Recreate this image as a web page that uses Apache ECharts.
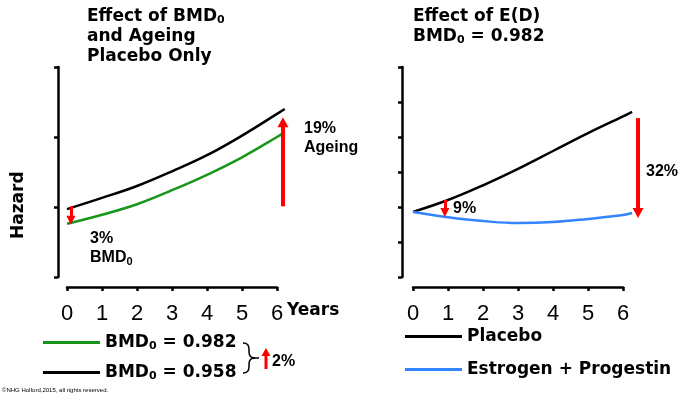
<!DOCTYPE html>
<html>
<head>
<meta charset="utf-8">
<script src="https://cdn.jsdelivr.net/npm/echarts@6/dist/echarts.min.js"></script>
<style>
html,body{margin:0;padding:0;background:#fff;}
#chart{width:680px;height:394px;}
</style>
</head>
<body>
<div id="chart"></div>
<script>
// ---- data ----
var years = [0, 1, 2, 3, 4, 5, 6, 6.22];
var bmd0958 = [0.97, 1.13, 1.30, 1.51, 1.74, 2.02, 2.33, 2.40];
var bmd0982 = [0.76, 0.89, 1.04, 1.24, 1.46, 1.71, 2.00, 2.07];

var yearsR = [0, 1, 2, 3, 4, 5, 6, 6.26];
var placebo = [1.86, 2.20, 2.62, 3.09, 3.60, 4.11, 4.59, 4.72];
var estProg = [1.86, 1.71, 1.60, 1.54, 1.57, 1.66, 1.77, 1.83];

var xTicks = ['0', '1', '2', '3', '4', '5', '6'];

// arrows: [x, yFrom, yTo]
var bmdArrow = [0.11, 1.01, 0.81];
var ageingArrow = [6.17, 1.01, 2.21];
var edArrow1 = [0.91, 2.20, 1.84];
var edArrow6 = [6.43, 4.54, 1.83];

function pairs(xs, ys) { return xs.map(function (x, i) { return [x, ys[i]]; }); }

var BOLD = '"DejaVu Sans", Verdana, sans-serif';
var ARIAL = '"Liberation Sans", Arial, sans-serif';

var richTitle = {
  b: { fontFamily: BOLD, fontWeight: 'bold', fontSize: 17, lineHeight: 20, color: '#000' },
  s: { fontFamily: BOLD, fontWeight: 'bold', fontSize: 11, lineHeight: 20, color: '#000', padding: [7, 0, 0, 0] }
};
var richLegend = {
  b: { fontFamily: BOLD, fontWeight: 'bold', fontSize: 17, color: '#000' },
  s: { fontFamily: BOLD, fontWeight: 'bold', fontSize: 11, color: '#000', padding: [7, 0, 0, 0] }
};
var legendLabels = {
  'BMD0 = 0.982': '{b|BMD}{s|0}{b| = 0.982}',
  'BMD0 = 0.958': '{b|BMD}{s|0}{b| = 0.958}',
  'Placebo': '{b|Placebo}',
  'Estrogen + Progestin': '{b|Estrogen + Progestin}'
};
function legendFmt(n) { return legendLabels[n]; }

function arrowData(a) { return [{ coord: [a[0], a[1]] }, { coord: [a[0], a[2]] }]; }
function arrowLine(a, width, size) {
  return {
    silent: true,
    symbol: ['none', 'triangle'],
    symbolSize: size,
    label: { show: false },
    lineStyle: { color: '#ff0000', width: width, type: 'solid' },
    itemStyle: { color: '#ff0000' },
    emphasis: { disabled: true },
    data: [arrowData(a)]
  };
}

// visible axes (0..6)
function xAxisCfg(gi) {
  return {
    gridIndex: gi, type: 'value', min: 0, max: 6, interval: 1, offset: 10,
    axisLine: { show: true, onZero: false, lineStyle: { color: '#000', width: 2.5 } },
    axisTick: { show: true, length: 4, lineStyle: { color: '#000', width: 2.5 } },
    axisLabel: {
      show: true, margin: 16, fontSize: 22, fontFamily: ARIAL, color: '#000',
      formatter: function (v) { return xTicks[Math.round(v)]; }
    },
    splitLine: { show: false }
  };
}
function yAxisCfg(gi, max, off) {
  return {
    gridIndex: gi, type: 'value', min: 0, max: max, interval: 1, offset: off,
    axisLine: { show: true, onZero: false, lineStyle: { color: '#000', width: 2.5 } },
    axisTick: { show: true, length: 4, lineStyle: { color: '#000', width: 2.5 } },
    axisLabel: { show: false },
    splitLine: { show: false }
  };
}
// hidden data axes, same scale (35 px / year), extended to 7 years
function hiddenX(gi) { return { gridIndex: gi, type: 'value', min: 0, max: 7, show: false, splitLine: { show: false } }; }
function hiddenY(gi, max) { return { gridIndex: gi, type: 'value', min: 0, max: max, show: false, splitLine: { show: false } }; }

var braceStyle = { stroke: '#000', lineWidth: 1.5, fill: null };

var chart = echarts.init(document.getElementById('chart'), null, { renderer: 'canvas' });
chart.setOption({
  animation: false,
  backgroundColor: '#fff',
  title: [
    { left: 87, top: 7, padding: 0, text: '{b|Effect of BMD}{s|0}\n{b|and Ageing}\n{b|Placebo Only}', textStyle: { rich: richTitle } },
    { left: 413, top: 7, padding: 0, text: '{b|Effect of E(D)}\n{b|BMD}{s|0}{b| = 0.982}', textStyle: { rich: richTitle } }
  ],
  legend: [
    { left: 43, top: 334, padding: 0, data: ['BMD0 = 0.982'], icon: 'rect', itemWidth: 57, itemHeight: 3, formatter: legendFmt, textStyle: { rich: richLegend }, selectedMode: false },
    { left: 43, top: 364, padding: 0, data: ['BMD0 = 0.958'], icon: 'rect', itemWidth: 57, itemHeight: 3, formatter: legendFmt, textStyle: { rich: richLegend }, selectedMode: false },
    { left: 405, top: 328, padding: 0, data: ['Placebo'], icon: 'rect', itemWidth: 57, itemHeight: 3, formatter: legendFmt, textStyle: { rich: richLegend }, selectedMode: false },
    { left: 405, top: 361, padding: 0, data: ['Estrogen + Progestin'], icon: 'rect', itemWidth: 57, itemHeight: 3, formatter: legendFmt, textStyle: { rich: richLegend }, selectedMode: false }
  ],
  grid: [
    { left: 67, top: 67, width: 210, height: 210 },
    { left: 413, top: 67, width: 210, height: 210 },
    { left: 67, top: 67, width: 245, height: 210 },
    { left: 413, top: 67, width: 245, height: 210 }
  ],
  xAxis: [xAxisCfg(0), xAxisCfg(1), hiddenX(2), hiddenX(3)],
  yAxis: [yAxisCfg(0, 3, 9), yAxisCfg(1, 6, 11), hiddenY(2, 3), hiddenY(3, 6)],
  series: [
    { name: 'BMD0 = 0.958', type: 'line', xAxisIndex: 2, yAxisIndex: 2, data: pairs(years, bmd0958), smooth: 0.4, showSymbol: false,
      color: '#000', lineStyle: { color: '#000', width: 2.5 },
      markLine: arrowLine(ageingArrow, 4, [11, 10]) },
    { name: 'BMD0 = 0.982', type: 'line', xAxisIndex: 2, yAxisIndex: 2, data: pairs(years, bmd0982), smooth: 0.4, showSymbol: false,
      color: '#17961b', lineStyle: { color: '#17961b', width: 2.5 },
      markLine: arrowLine(bmdArrow, 3, [9, 9]) },
    { name: 'Placebo', type: 'line', xAxisIndex: 3, yAxisIndex: 3, data: pairs(yearsR, placebo), smooth: 0.4, showSymbol: false,
      color: '#000', lineStyle: { color: '#000', width: 2.5 },
      markLine: arrowLine(edArrow6, 4, [11, 10]) },
    { name: 'Estrogen + Progestin', type: 'line', xAxisIndex: 3, yAxisIndex: 3, data: pairs(yearsR, estProg), smooth: 0.4, showSymbol: false,
      color: '#3385ff', lineStyle: { color: '#3385ff', width: 2.5 },
      markLine: arrowLine(edArrow1, 3, [9, 9]) }
  ],
  graphic: [
    { type: 'text', x: 10, y: 239, rotation: Math.PI / 2, style: { text: 'Hazard', font: 'bold 17px ' + BOLD, fill: '#000' } },
    { type: 'text', x: 287, y: 311, style: { text: 'Years', font: 'bold 17px ' + BOLD, fill: '#000', verticalAlign: 'middle' } },
    { type: 'text', x: 90, y: 239, style: { text: '3%', font: 'bold 16px ' + ARIAL, fill: '#000', verticalAlign: 'middle' } },
    { type: 'text', x: 90, y: 258, style: { text: '{b|BMD}{s|0}', verticalAlign: 'middle',
      rich: { b: { font: 'bold 16px ' + ARIAL, fill: '#000' }, s: { font: 'bold 11px ' + ARIAL, fill: '#000', padding: [7, 0, 0, 0] } } } },
    { type: 'text', x: 304, y: 129, style: { text: '19%', font: 'bold 16px ' + ARIAL, fill: '#000', verticalAlign: 'middle' } },
    { type: 'text', x: 304, y: 148, style: { text: 'Ageing', font: 'bold 16px ' + ARIAL, fill: '#000', verticalAlign: 'middle' } },
    { type: 'text', x: 453, y: 209, style: { text: '9%', font: 'bold 16px ' + ARIAL, fill: '#000', verticalAlign: 'middle' } },
    { type: 'text', x: 646, y: 172, style: { text: '32%', font: 'bold 16px ' + ARIAL, fill: '#000', verticalAlign: 'middle' } },
    { type: 'text', x: 272, y: 362, style: { text: '2%', font: 'bold 16px ' + ARIAL, fill: '#000', verticalAlign: 'middle' } },
    { type: 'bezierCurve', shape: { x1: 243, y1: 343, cpx1: 249, cpy1: 343, x2: 249, y2: 349 }, style: braceStyle },
    { type: 'line', shape: { x1: 249, y1: 349, x2: 249, y2: 352 }, style: braceStyle },
    { type: 'bezierCurve', shape: { x1: 249, y1: 352, cpx1: 249, cpy1: 358, x2: 255, y2: 358 }, style: braceStyle },
    { type: 'bezierCurve', shape: { x1: 255, y1: 358, cpx1: 249, cpy1: 358, x2: 249, y2: 364 }, style: braceStyle },
    { type: 'line', shape: { x1: 249, y1: 364, x2: 249, y2: 367 }, style: braceStyle },
    { type: 'bezierCurve', shape: { x1: 249, y1: 367, cpx1: 249, cpy1: 373, x2: 243, y2: 373 }, style: braceStyle },
    { type: 'line', shape: { x1: 255, y1: 358, x2: 259, y2: 358 }, style: braceStyle },
    { type: 'line', shape: { x1: 266, y1: 369, x2: 266, y2: 355 }, style: { stroke: '#ff0000', lineWidth: 3 } },
    { type: 'polygon', shape: { points: [[266, 348], [261.5, 356], [270.5, 356]] }, style: { fill: '#ff0000' } },
    { type: 'text', x: 2, y: 390, style: { text: '\u00A9NHG Holford,2015, all rights reserved.', font: '6px ' + ARIAL, fill: '#000', verticalAlign: 'middle' } }
  ]
});
</script>
</body>
</html>
